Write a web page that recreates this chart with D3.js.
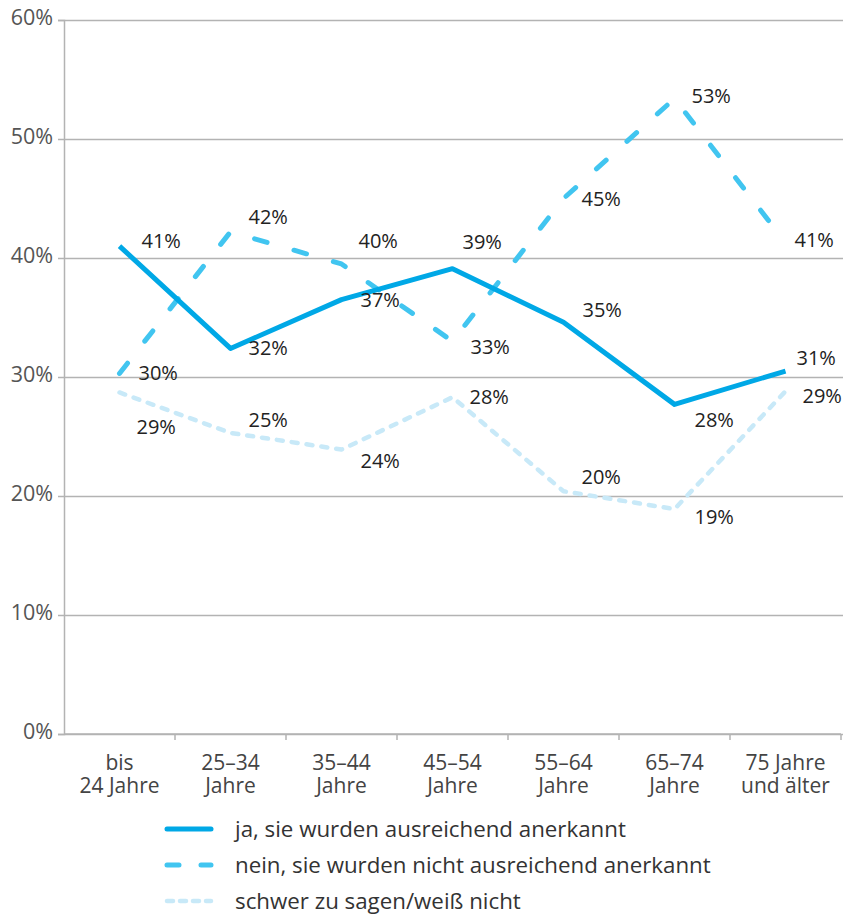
<!DOCTYPE html>
<html>
<head>
<meta charset="utf-8">
<script src="https://cdn.jsdelivr.net/npm/d3@7"></script>
<style>
  body { margin: 0; background: #fff; }
  svg text { font-family: "Open Sans", sans-serif; }
</style>
</head>
<body>
<svg id="chart" width="848" height="917"></svg>
<script>
// categories (two-line tick labels)
var categories = ["bis|24 Jahre", "25–34|Jahre", "35–44|Jahre", "45–54|Jahre",
                  "55–64|Jahre", "65–74|Jahre", "75 Jahre|und älter"];
var yTicks = [0, 0.1, 0.2, 0.3, 0.4, 0.5, 0.6];

// series values (shares)
var jaValues = [0.410, 0.324, 0.365, 0.391, 0.346, 0.277, 0.305];
var neinValues = [0.303, 0.422, 0.395, 0.330, 0.450, 0.534, 0.413];
var schwerValues = [0.287, 0.253, 0.239, 0.283, 0.204, 0.189, 0.288];

// printed labels
var jaLabels = ["41%", "32%", "37%", "39%", "35%", "28%", "31%"];
var neinLabels = ["30%", "42%", "40%", "33%", "45%", "53%", "41%"];
var schwerLabels = ["29%", "25%", "24%", "28%", "20%", "19%", "29%"];

var seriesNames = ["ja, sie wurden ausreichend anerkannt",
                   "nein, sie wurden nicht ausreichend anerkannt",
                   "schwer zu sagen/weiß nicht"];

var svg = d3.select("#chart"),
    margin = {left: 64, right: 7, top: 20, bottom: 183},
    width = 848 - margin.left - margin.right,
    height = 917 - margin.top - margin.bottom,
    g = svg.append("g").attr("transform", "translate(" + margin.left + "," + margin.top + ")");

var x = d3.scaleBand().domain(categories).range([0, width]),
    y = d3.scaleLinear().domain([0, 0.6]).range([height, 0]);

/*
 * gridlines + y axis
 */
var yAxis = g.append("g")
    .call(d3.axisLeft(y).tickValues(yTicks).tickSize(6).tickFormat(d3.format(".0%")));
yAxis.select(".domain").attr("stroke", "#b3b3b3").attr("stroke-width", 1.5);
yAxis.selectAll(".tick line").attr("stroke", "#b3b3b3").attr("stroke-width", 1.5);
yAxis.selectAll(".tick text")
    .attr("x", -11).attr("dy", "0.2em")
    .attr("fill", "#555").attr("font-size", 21.5);
yAxis.selectAll(".tick").append("line")
    .attr("x1", 0).attr("x2", width + 2)
    .attr("stroke", "#b3b3b3").attr("stroke-width", 1.5);

/*
 * x axis
 */
var xAxis = g.append("g").attr("transform", "translate(0," + height + ")");
xAxis.append("line").attr("x1", 0).attr("x2", width)
    .attr("stroke", "#b3b3b3").attr("stroke-width", 1.5);
xAxis.selectAll("line.sep")
    .data(categories)
    .enter().append("line")
    .attr("class", "sep")
    .attr("x1", function(d) { return x(d) + x.bandwidth(); })
    .attr("x2", function(d) { return x(d) + x.bandwidth(); })
    .attr("y1", 0).attr("y2", 6)
    .attr("stroke", "#b3b3b3").attr("stroke-width", 1.5);
[0, 1].forEach(function(row) {
    xAxis.selectAll(null)
        .data(categories)
        .enter().append("text")
        .attr("text-anchor", "middle")
        .attr("fill", "#444").attr("font-size", 21)
        .attr("x", function(d) { return x(d) + x.bandwidth() / 2; })
        .attr("y", 36 + row * 23)
        .text(function(d) { return d.split("|")[row]; });
});

/*
 * series lines
 */
var series = [
    {values: jaValues, labels: jaLabels, color: "#00a8e6", width: 5, dash: null,
     dx: [22, 18, 19, 10, 19, 20, 11], dy: [-5, 0, 0, -27, -12, 16, -13]},
    {values: neinValues, labels: neinLabels, color: "#41c5f0", width: 5, dash: "13,28",
     dx: [19, 18, 17, 18, 18, 17, 9], dy: [0, -15, -23, 6, 0, -3, -3]},
    {values: schwerValues, labels: schwerLabels, color: "#c8e9f8", width: 4.5, dash: "6,9",
     dx: [17, 18, 19, 17, 18, 20, 17], dy: [35, -13, 11, 0, -14, 8, 5]}
];

var line = d3.line()
    .x(function(d, i) { return x(categories[i]) + x.bandwidth() / 2; })
    .y(function(d) { return y(d); });

series.slice().reverse().forEach(function(s) {
    g.append("path")
        .datum(s.values)
        .attr("fill", "none")
        .attr("stroke", s.color)
        .attr("stroke-width", s.width)
        .attr("stroke-linecap", s.dash ? "round" : "butt")
        .attr("stroke-linejoin", "round")
        .attr("stroke-dasharray", s.dash)
        .attr("d", line);
});

series.forEach(function(s) {
    g.selectAll(null)
        .data(s.values)
        .enter().append("text")
        .attr("x", function(d, i) { return x(categories[i]) + x.bandwidth() / 2 + s.dx[i]; })
        .attr("y", function(d, i) { return y(d) + s.dy[i]; })
        .attr("dy", "0.35em")
        .attr("fill", "#222").attr("font-size", 20)
        .text(function(d, i) { return s.labels[i]; });
});

/*
 * legend
 */
var legend = svg.append("g").attr("transform", "translate(167,829)");
series.forEach(function(s, i) {
    var item = legend.append("g").attr("transform", "translate(0," + (i * 36) + ")");
    item.append("line")
        .attr("x1", 0).attr("x2", 44)
        .attr("stroke", s.color)
        .attr("stroke-width", s.width)
        .attr("stroke-linecap", "round")
        .attr("stroke-dasharray", i === 1 ? "12,22" : (i === 2 ? "6,7" : null));
    item.append("text")
        .attr("x", 68).attr("dy", "0.35em")
        .attr("fill", "#333").attr("font-size", 22.3)
        .text(seriesNames[i]);
});
</script>
</body>
</html>
